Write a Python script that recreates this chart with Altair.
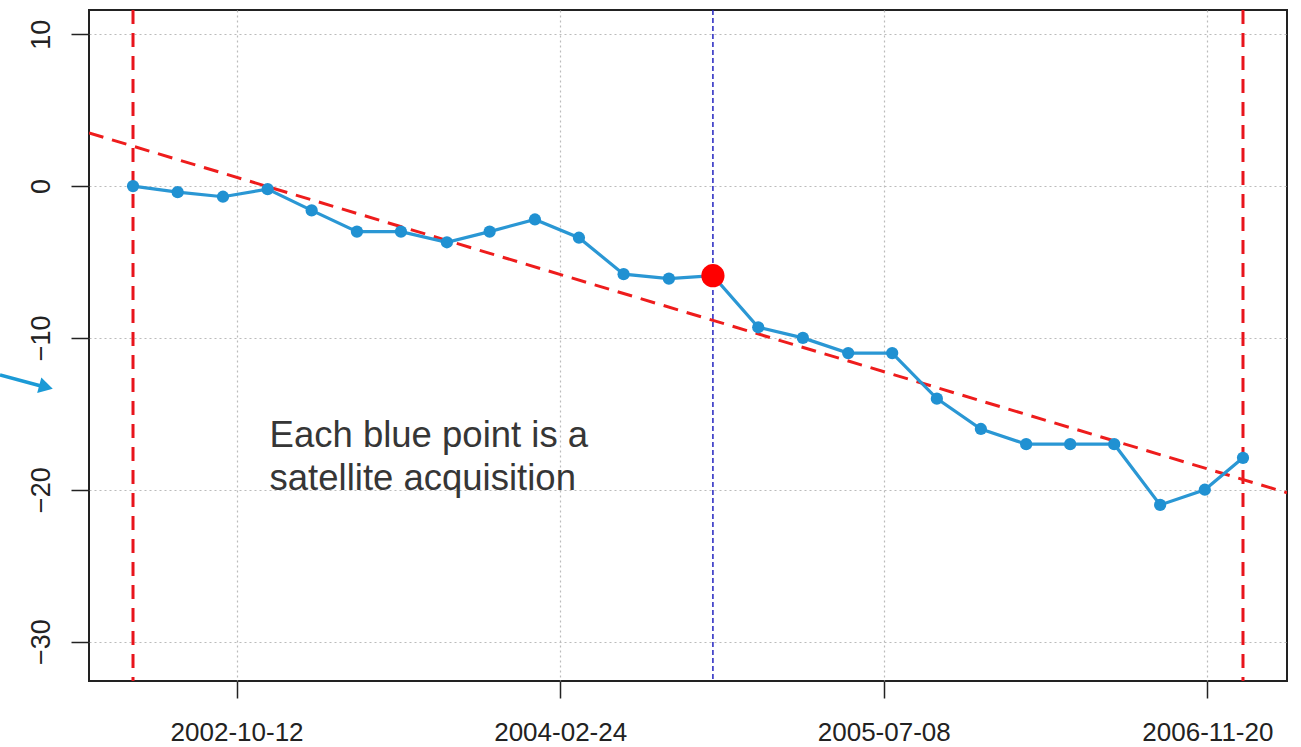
import altair as alt
import pandas as pd

# Acquisition dates and cumulative change at each acquisition
acq_dates = [
    "2002-05-05", "2002-07-13", "2002-09-21", "2002-11-29", "2003-02-05",
    "2003-04-16", "2003-06-23", "2003-09-02", "2003-11-07", "2004-01-16",
    "2004-03-24", "2004-06-01", "2004-08-10", "2004-10-17", "2004-12-26",
    "2005-03-05", "2005-05-14", "2005-07-21", "2005-09-28", "2005-12-05",
    "2006-02-13", "2006-04-22", "2006-06-29", "2006-09-08", "2006-11-16",
    "2007-01-14",
]
acq_values = [
    0.0, -0.4, -0.7, -0.2, -1.6,
    -3.0, -3.0, -3.7, -3.0, -2.2,
    -3.4, -5.8, -6.1, -5.9, -9.3,
    -10.0, -11.0, -11.0, -14.0, -16.0,
    -17.0, -17.0, -17.0, -21.0, -20.0,
    -17.9,
]

# Breakpoint (highlighted acquisition)
break_date = ["2004-10-17"]
break_value = [-5.9]

# Linear trend, given at the two ends of the time axis
trend_dates = ["2002-02-26", "2007-03-23"]
trend_values = [3.5, -20.2]

# Start and end of the monitored period
period_dates = ["2002-05-05", "2007-01-14"]

# Axis ticks
x_tick_dates = [(2002, 10, 12), (2004, 2, 24), (2005, 7, 8), (2006, 11, 20)]
y_ticks = [-30, -20, -10, 0, 10]

note_lines = ["Each blue point is a", "satellite acquisition"]
note_date = ["2002-12-02"]
note_value = [-17.2]

series = pd.DataFrame({"date": acq_dates, "value": acq_values})
brk = pd.DataFrame({"date": break_date, "value": break_value})
trend = pd.DataFrame({"date": trend_dates, "value": trend_values})
period = pd.DataFrame({"date": period_dates})
note = pd.DataFrame({"date": note_date, "value": note_value, "text": [note_lines]})

x_scale = alt.Scale(
    type="utc",
    domain=[alt.DateTime(year=2002, month=2, date=26, utc=True),
            alt.DateTime(year=2007, month=3, date=23, utc=True)],
    nice=False,
)
y_scale = alt.Scale(domain=[-32.6, 11.6], nice=False, zero=False)

x_axis = alt.Axis(
    title=None,
    values=[alt.DateTime(year=y, month=m, date=d, utc=True) for y, m, d in x_tick_dates],
    format="%Y-%m-%d",
    labelFontSize=26,
    labelFont="Liberation Sans",
    labelColor="#222222",
    labelPadding=21,
    labelAngle=0,
    labelAlign="center",
    labelBaseline="top",
    tickSize=17,
    tickColor="#222222",
    tickWidth=1.5,
    domain=False,
    grid=True,
    gridColor="#bbbbbb",
    gridDash=[2, 3],
    gridWidth=1.2,
)
y_axis = alt.Axis(
    title=None,
    values=y_ticks,
    labelFontSize=27,
    labelFont="Liberation Sans",
    labelColor="#222222",
    labelAngle=270,
    labelAlign="center",
    labelBaseline="alphabetic",
    labelPadding=22,
    tickSize=18,
    tickColor="#222222",
    tickWidth=1.5,
    domain=False,
    grid=True,
    gridColor="#bbbbbb",
    gridDash=[2, 3],
    gridWidth=1.2,
)

x_enc = alt.X("date:T", scale=x_scale, axis=x_axis)
y_enc = alt.Y("value:Q", scale=y_scale, axis=y_axis)

base = alt.Chart(series).encode(x=x_enc, y=y_enc)

period_rules = alt.Chart(period).mark_rule(
    color="#e8141c", strokeWidth=3, strokeDash=[14, 9]
).encode(x=alt.X("date:T", scale=x_scale))

break_rule = alt.Chart(brk).mark_rule(
    color="#2424c0", strokeWidth=1.5, strokeDash=[5, 3]
).encode(x=alt.X("date:T", scale=x_scale))

trend_line = alt.Chart(trend).mark_line(
    color="#ee1c1c", strokeWidth=3, strokeDash=[15, 9], clip=True
).encode(x=alt.X("date:T", scale=x_scale), y=alt.Y("value:Q", scale=y_scale))

series_line = base.mark_line(color="#2a97d4", strokeWidth=3.2)
series_points = base.mark_circle(color="#2091d2", size=150, opacity=1)

break_point = alt.Chart(brk).mark_circle(color="#ff0000", size=540, opacity=1).encode(
    x=alt.X("date:T", scale=x_scale), y=alt.Y("value:Q", scale=y_scale)
)

note_text = alt.Chart(note).mark_text(
    align="left", baseline="alphabetic", fontSize=36.5, font="Liberation Sans",
    color="#363636", lineHeight=43,
).encode(
    x=alt.X("date:T", scale=x_scale), y=alt.Y("value:Q", scale=y_scale), text="text"
)

# Pointer arrow in the left margin
arrow_shaft = alt.Chart(pd.DataFrame({"k": [0]})).mark_rule(
    color="#1b9ad6", strokeWidth=3.5
).encode(x=alt.value(-89), y=alt.value(365), x2=alt.value(-48), y2=alt.value(376))
arrow_head = alt.Chart(pd.DataFrame({"k": [0]})).mark_point(
    shape="triangle-right", filled=True, color="#1b9ad6", size=260, angle=15, opacity=1
).encode(x=alt.value(-43), y=alt.value(377))

chart = alt.layer(
    period_rules, break_rule, trend_line, series_line, series_points,
    break_point, note_text, arrow_shaft, arrow_head,
).properties(
    width=1198,
    height=671,
    autosize=alt.AutoSizeParams(type="none"),
    padding={"left": 89, "top": 10, "right": 14, "bottom": 66},
    background="white",
).configure_view(
    stroke="#222222", strokeWidth=2
)

chart.save("out.html", embed_options={"renderer": "svg", "actions": False})
